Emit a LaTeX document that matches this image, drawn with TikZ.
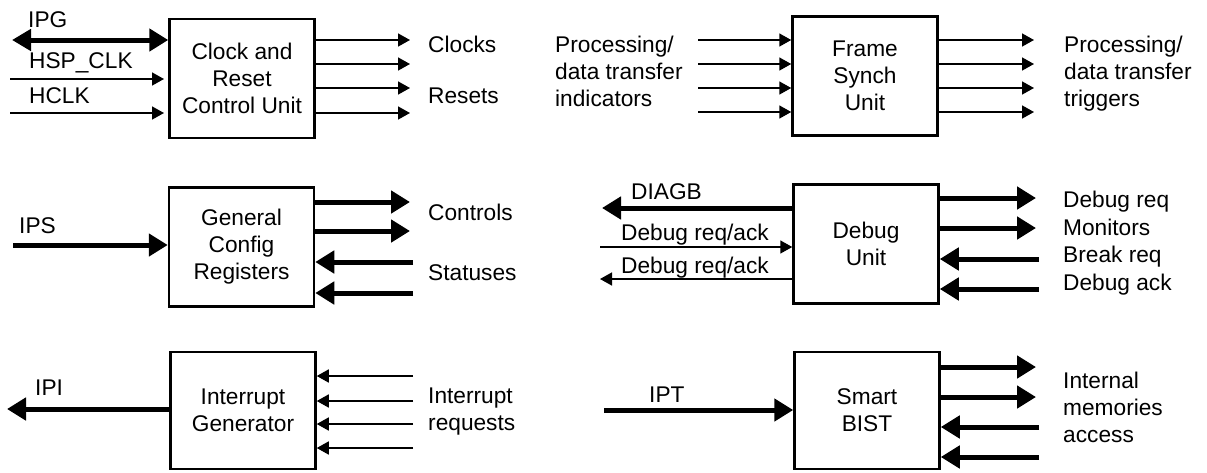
\documentclass[tikz,border=0pt]{standalone}
\usepackage{fontspec}
\setmainfont{Liberation Sans}
\usetikzlibrary{arrows.meta}
\newcommand\dfont{\fontsize{22.7}{27}\selectfont}
\begin{document}
\begin{tikzpicture}[x=1pt,y=-1pt,
  box/.style={draw, line width=2.5pt, minimum width=145pt, minimum height=119pt, inner sep=0pt, align=center, font=\dfont},
  thinarr/.style={line width=1.6pt, -{Triangle[length=12pt,width=13pt]}},
  thickarr/.style={line width=5pt, -{Triangle[length=19pt,width=22pt]}},
  thickboth/.style={line width=5pt, {Triangle[length=19pt,width=21pt]}-{Triangle[length=19pt,width=22pt]}},
  lbl/.style={inner sep=0pt, font=\dfont, align=left}]
\useasboundingbox (0,0) rectangle (1207,472);

% ---------- boxes ----------
\node[box] (B1) at (242,78.5) {Clock and\\Reset\\Control Unit};
\node[box] (B2) at (865,76) {Frame\\Synch\\Unit};
\node[box] (B3) at (241.5,247) {General\\Config\\Registers};
\node[box] (B4) at (866,244) {Debug\\Unit};
\node[box, minimum height=117pt] (B5) at (243,410.5) {Interrupt\\Generator};
\node[box, minimum height=117pt] (B6) at (867,410.5) {Smart\\BIST};

% ---------- labels ----------
\node[lbl, anchor=base west] (lIPG) at (28,27) {IPG};
\node[lbl, anchor=base west] (lHSP) at (29,68) {HSP\_CLK};
\node[lbl, anchor=base west] (lHCLK) at (29,103) {HCLK};
\node[lbl, anchor=base west] (lClk) at (428,52) {Clocks};
\node[lbl, anchor=base west] (lRst) at (428,103) {Resets};
\node[lbl, anchor=west] (lInd) at (555,71.8) {Processing/\\data transfer\\indicators};
\node[lbl, anchor=west] (lTrg) at (1064,74.1) {Processing/\\data transfer\\triggers};
\node[lbl, anchor=base west] (lIPS) at (19,233) {IPS};
\node[lbl, anchor=base west] (lCtl) at (428,220) {Controls};
\node[lbl, anchor=base west] (lSta) at (428,280) {Statuses};
\node[lbl, anchor=base west] (lDIA) at (631,199) {DIAGB};
\node[lbl, anchor=base west] (lDin) at (621,240) {Debug req/ack};
\node[lbl, anchor=base west] (lDout) at (621,273) {Debug req/ack};
\node[lbl, anchor=base west] (lDrq) at (1063,207) {Debug req};
\node[lbl, anchor=base west] (lMon) at (1063,235) {Monitors};
\node[lbl, anchor=base west] (lBrk) at (1063,262) {Break req};
\node[lbl, anchor=base west] (lDak) at (1063,290) {Debug ack};
\node[lbl, anchor=base west] (lIPI) at (35,395) {IPI};
\node[lbl, anchor=west] (lIrq) at (428,411.7) {Interrupt\\requests};
\node[lbl, anchor=base west] (lIPT) at (649,402) {IPT};
\node[lbl, anchor=west] (lMem) at (1063,407.75) {Internal\\memories\\access};

% ---------- free connector ends ----------
\coordinate (ipgL) at (12,40);
\coordinate (hspL) at (10,79);
\coordinate (hclkL) at (10,113);
\coordinate (hspT) at (164,79);
\coordinate (hclkT) at (164,113);
\foreach \i/\y in {1/40,2/64,3/88,4/113} \coordinate (o1\i) at (410,\y);
\foreach \i/\y in {1/40,2/64,3/88,4/112} {
  \coordinate (i2\i) at (698,\y);
  \coordinate (o2\i) at (1034,\y);
}
\coordinate (ips) at (13,245);
\coordinate (o31) at (410,202);
\coordinate (o32) at (410,231);
\coordinate (i31) at (413,262);
\coordinate (i32) at (413,293);
\coordinate (diag) at (602,208);
\coordinate (din) at (600,247);
\coordinate (dout) at (600,279);
\coordinate (o41) at (1036,198);
\coordinate (o42) at (1036,228);
\coordinate (i41) at (1039,259);
\coordinate (i42) at (1039,289);
\coordinate (ipi) at (7,409);
\foreach \i/\y in {1/376,2/401,3/424,4/448} \coordinate (i5\i) at (413,\y);
\coordinate (ipt) at (604,410);
\coordinate (o61) at (1036,367);
\coordinate (o62) at (1036,397);
\coordinate (i61) at (1039,427);
\coordinate (i62) at (1039,457);

% ---------- connectors ----------
% Clock and reset
\draw[thickboth] (ipgL) -- (ipgL -| B1.west);
\draw[thinarr] (hspL) -- (hspT);
\draw[thinarr] (hclkL) -- (hclkT);
\foreach \i in {1,...,4} \draw[thinarr] (o1\i -| B1.east) -- (o1\i);
% Frame synch
\foreach \i in {1,...,4} {
  \draw[thinarr] (i2\i) -- (i2\i -| B2.west);
  \draw[thinarr] (o2\i -| B2.east) -- (o2\i);
}
% General config
\draw[thickarr] (ips) -- (ips -| B3.west);
\draw[thickarr] (o31 -| B3.east) -- (o31);
\draw[thickarr] (o32 -| B3.east) -- (o32);
\draw[thickarr] (i31) -- (i31 -| B3.east);
\draw[thickarr] (i32) -- (i32 -| B3.east);
% Debug
\draw[thickarr] (diag -| B4.west) -- (diag);
\draw[thinarr] (din) -- (din -| B4.west);
\draw[thinarr] (dout -| B4.west) -- (dout);
\draw[thickarr] (o41 -| B4.east) -- (o41);
\draw[thickarr] (o42 -| B4.east) -- (o42);
\draw[thickarr] (i41) -- (i41 -| B4.east);
\draw[thickarr] (i42) -- (i42 -| B4.east);
% Interrupt
\draw[thickarr] (ipi -| B5.west) -- (ipi);
\foreach \i in {1,...,4} \draw[thinarr] (i5\i) -- (i5\i -| B5.east);
% Smart BIST
\draw[thickarr] (ipt) -- (ipt -| B6.west);
\draw[thickarr] (o61 -| B6.east) -- (o61);
\draw[thickarr] (o62 -| B6.east) -- (o62);
\draw[thickarr] (i61) -- (i61 -| B6.east);
\draw[thickarr] (i62) -- (i62 -| B6.east);
\end{tikzpicture}
\end{document}
